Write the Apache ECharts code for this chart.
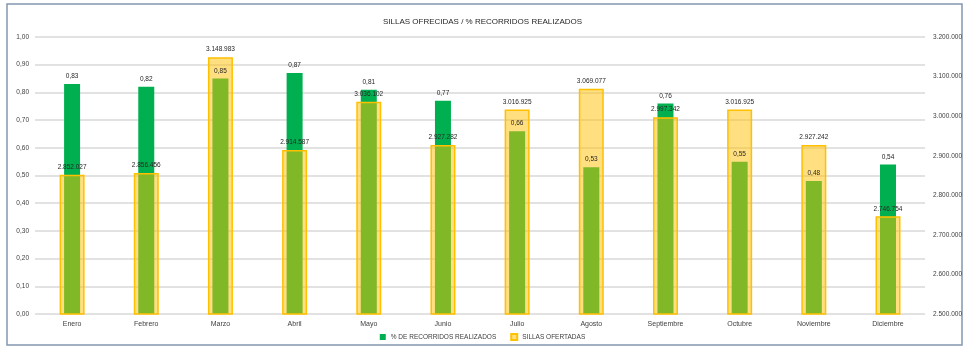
<!DOCTYPE html>
<html>
<head>
<meta charset="utf-8">
<script src="https://cdn.jsdelivr.net/npm/echarts@6/dist/echarts.min.js"></script>
<style>
html,body{margin:0;padding:0;background:#fff;}
#c{width:965px;height:349px;}
</style>
</head>
<body>
<div id="c"></div>
<script>
const categories = ['Enero','Febrero','Marzo','Abril','Mayo','Junio','Julio','Agosto','Septiembre','Octubre','Noviembre','Diciembre'];
const recorridos = [0.83, 0.82, 0.85, 0.87, 0.81, 0.77, 0.66, 0.53, 0.76, 0.55, 0.48, 0.54];
const sillas = [2852027, 2856456, 3148983, 2914587, 3036102, 2927282, 3016925, 3069077, 2997342, 3016925, 2927242, 2746754];
const titleText = 'SILLAS OFRECIDAS / % RECORRIDOS REALIZADOS';
const nameRec = '% DE RECORRIDOS REALIZADOS';
const nameSil = 'SILLAS OFERTADAS';

const FONT = "'Liberation Sans Narrow','Liberation Sans',sans-serif";
function thousands(n){ return String(Math.round(n)).replace(/\B(?=(\d{3})+(?!\d))/g, '.'); }
function dec(v){ return v.toFixed(2).replace('.', ','); }

const chart = echarts.init(document.getElementById('c'), null, {renderer:'canvas'});
chart.setOption({
  animation:false,
  backgroundColor:'#fff',
  textStyle:{fontFamily:FONT},
  graphic:[{type:'rect', shape:{x:7, y:4, width:955, height:341}, style:{fill:'none', stroke:'#8497B0', lineWidth:1.5}, silent:true}],
  title:{text:titleText, left:'center', top:13, textStyle:{fontSize:8, fontWeight:'normal', color:'#262626', fontFamily:FONT}},
  legend:{
    data:[nameRec, nameSil], bottom:3, left:'center', itemWidth:6, itemHeight:6, itemGap:14, icon:'rect',
    textStyle:{fontSize:6.5, color:'#404040', fontFamily:FONT}
  },
  grid:{left:35, right:31, top:37, bottom:35},
  xAxis:[
    {type:'category', data:categories, axisLine:{show:false}, axisTick:{show:false},
     axisLabel:{fontSize:7, color:'#404040', margin:7, fontFamily:FONT}},
    {type:'category', data:categories, show:false}
  ],
  yAxis:[
    {type:'value', min:0, max:1, interval:0.1, axisLine:{show:false}, axisTick:{show:false},
     axisLabel:{fontSize:6.5, color:'#404040', formatter:v=>dec(v), margin:6, fontFamily:FONT},
     splitLine:{lineStyle:{color:'#D9D9D9', width:1.5}}},
    {type:'value', min:2500000, max:3200000, interval:100000, axisLine:{show:false}, axisTick:{show:false},
     axisLabel:{fontSize:6.5, color:'#404040', formatter:v=>thousands(v), margin:8, fontFamily:FONT},
     splitLine:{show:false}}
  ],
  series:[
    {name:nameRec, type:'bar', xAxisIndex:0, yAxisIndex:0, data:recorridos, barWidth:16, barGap:'-100%', z:1,
     itemStyle:{color:'#00B050'}},
    {name:nameSil, type:'bar', xAxisIndex:1, yAxisIndex:1, data:sillas, barWidth:25, z:2,
     itemStyle:{color:'rgba(255,192,0,0.5)', borderColor:'#FFC000', borderWidth:1.5},
     label:{show:true, position:'top', distance:4, fontSize:6.5, color:'#262626', fontFamily:FONT, formatter:p=>thousands(p.value)}},
    {name:'lbl', type:'bar', xAxisIndex:0, yAxisIndex:0, data:recorridos, barWidth:16, barGap:'-100%', z:3,
     itemStyle:{color:'rgba(0,0,0,0)'}, silent:true,
     label:{show:true, position:'top', distance:4, fontSize:6.5, color:'#262626', fontFamily:FONT, formatter:p=>dec(p.value)}}
  ]
});
</script>
</body>
</html>
